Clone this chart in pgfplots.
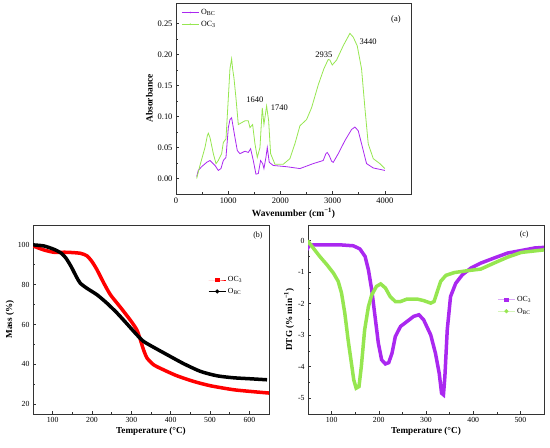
\documentclass[border=0pt]{standalone}
\usepackage{pgfplots}
\pgfplotsset{compat=1.18}
\usepackage{fontspec}
\setmainfont{Liberation Serif}
\definecolor{cpur}{RGB}{170,40,240}
\definecolor{cgrn}{RGB}{150,230,80}
\pgfplotsset{
  every axis/.append style={
    scale only axis,
    axis line style={line width=0.6bp, black!80},
    tick align=inside,
    tick pos=left,
    minor tick num=1,
    major tick length=3bp,
    minor tick length=1.8bp,
    every tick/.style={black!80, line width=0.6bp},
    tick label style={font=\fontsize{7.8}{8}\selectfont},
    label style={font=\fontsize{9.2}{10}\selectfont\bfseries},
    /pgf/number format/assume math mode=true,
    /pgf/number format/set thousands separator={},
    legend style={draw=none, fill=none, font=\fontsize{7.8}{8}\selectfont, row sep=1bp},
  }
}
\begin{document}
\begin{tikzpicture}
\path (0,0) rectangle (550bp,448bp);
% ---------------- (a)
\begin{axis}[
  at={(176bp,254bp)}, anchor=south west,
  width=235bp, height=191bp,
  xmin=0, xmax=4500, ymin=-0.025, ymax=0.283,
  xtick={0,1000,2000,3000,4000},
  ytick={0,0.05,0.1,0.15,0.2,0.25},
  tick label style={font=\fontsize{8.5}{9}\selectfont},
  label style={font=\fontsize{9.5}{10}\selectfont\bfseries},
  yticklabel style={/pgf/number format/fixed,/pgf/number format/precision=2,/pgf/number format/zerofill},
  scaled y ticks=false,
  xlabel={Wavenumber (cm\textsuperscript{−1})},
  ylabel={Absorbance},
  xlabel style={yshift=2bp},
  ylabel style={yshift=-2bp},
  legend style={at={(0.01,0.99)}, anchor=north west, font=\fontsize{8}{9}\selectfont},
  legend cell align=left,
]
\addplot[cpur, line width=0.8bp, forget plot] coordinates {
(396,0.003)(427,0.013)(491,0.019)(587,0.026)(651,0.029)(747,0.021)(810,0.013)(861,0.016)(906,0.029)(957,0.034)
(1002,0.082)(1033,0.095)(1065,0.098)(1097,0.082)(1129,0.066)(1174,0.045)(1225,0.040)(1321,0.044)(1384,0.042)(1429,0.048)
(1480,0.029)(1531,0.007)(1576,0.008)(1620,0.029)(1659,0.024)(1684,0.016)(1722,0.034)(1748,0.050)(1786,0.026)(1863,0.021)
(2118,0.019)(2373,0.016)(2628,0.024)(2819,0.029)(2870,0.040)(2896,0.042)(2934,0.037)(2979,0.028)(3011,0.026)(3107,0.040)
(3234,0.061)(3362,0.079)(3426,0.083)(3490,0.077)(3553,0.056)(3649,0.024)(3777,0.017)(4000,0.013)};
\addlegendimage{cpur, line width=0.5bp, mark=*, mark size=0.5bp}
\addlegendentry{O\textsubscript{BC}}
\addplot[cgrn, line width=0.8bp, forget plot] coordinates {
(396,0.0)(459,0.021)(555,0.050)(600,0.069)(619,0.073)(651,0.066)(715,0.040)(766,0.024)(810,0.029)(874,0.040)
(906,0.058)(957,0.064)(1002,0.130)(1033,0.177)(1065,0.193)(1084,0.177)(1110,0.162)(1148,0.130)(1193,0.087)(1257,0.090)
(1321,0.093)(1384,0.093)(1416,0.082)(1467,0.087)(1512,0.056)(1557,0.034)(1608,0.050)(1652,0.114)(1684,0.087)(1735,0.117)
(1774,0.093)(1812,0.040)(1895,0.023)(2054,0.023)(2181,0.032)(2277,0.056)(2373,0.085)(2500,0.095)(2596,0.114)(2724,0.151)
(2832,0.177)(2915,0.192)(2947,0.191)(2992,0.183)(3075,0.191)(3202,0.214)(3330,0.234)(3394,0.228)(3470,0.214)(3553,0.177)
(3617,0.114)(3681,0.056)(3777,0.032)(3904,0.024)(4000,0.016)};
\addlegendimage{cgrn, line width=0.5bp, mark=*, mark size=0.5bp}
\addlegendentry{OC\textsubscript{3}}
\node[font=\fontsize{8.5}{9}\selectfont] at (axis cs:1510,0.127) {1640};
\node[font=\fontsize{8.5}{9}\selectfont] at (axis cs:1978,0.114) {1740};
\node[font=\fontsize{8.5}{9}\selectfont] at (axis cs:2832,0.200) {2935};
\node[font=\fontsize{8.5}{9}\selectfont] at (axis cs:3680,0.221) {3440};
\node[font=\fontsize{8.5}{9}\selectfont] at (axis cs:4211,0.257) {(a)};
\end{axis}
% ---------------- (b)
\begin{axis}[
  at={(33bp,34bp)}, anchor=south west,
  width=236bp, height=189bp,
  xmin=50, xmax=650, ymin=15, ymax=110,
  xtick={100,200,300,400,500,600},
  ytick={20,40,60,80,100},
  xlabel={Temperature (°C)},
  ylabel={Mass (\%)},
  xlabel style={yshift=2bp},
  ylabel style={yshift=-3bp},
  legend style={at={(0.73,0.75)}, anchor=north west},
  legend cell align=left,
]
\addplot[red, line width=3.5bp, forget plot, smooth, tension=0.4] coordinates {
(50,99.5)(77,97.5)(103,96.3)(136,96.3)(170,95.8)(187,94.5)(200,91.6)(213,87.4)(230,80.8)(247,74.9)
(272,68.7)(297,62.3)(314,57.3)(323,52.3)(331,47.3)(340,43.1)(357,39.7)(382,37.2)(416,34.2)(458,31.4)
(501,29.2)(560,27.2)(611,26.2)(652,25.5)};
\addlegendimage{red, line width=0.5bp, mark=square*, mark size=1.8bp}
\addlegendentry{OC\textsubscript{3}}
\addplot[black, line width=3.5bp, forget plot, smooth, tension=0.4] coordinates {
(50,100)(77,99.5)(103,97.8)(122,95.8)(134,93.3)(147,89.1)(160,84.1)(170,80.8)(187,78.2)(213,74.9)
(238,70.7)(264,65.7)(289,60.3)(314,54.8)(331,51.5)(357,48.5)(391,44.8)(433,40.3)(476,36.4)(518,34.2)
(560,33.2)(603,32.7)(645,32.2)};
\addlegendimage{black, line width=0.5bp, mark=*, mark size=1.8bp}
\addlegendentry{O\textsubscript{BC}}
\node[font=\fontsize{8}{9}\selectfont] at (axis cs:622,104.7) {(b)};
\end{axis}
% ---------------- (c)
\begin{axis}[
  at={(308bp,34bp)}, anchor=south west,
  width=236bp, height=189bp,
  xmin=50, xmax=550, ymin=-5.5, ymax=0.5,
  xtick={100,200,300,400,500},
  ytick={-5,-4,-3,-2,-1,0},
  xlabel={Temperature (°C)},
  ylabel={DTG (\% min\textsuperscript{−1})},
  xlabel style={yshift=2bp},
  ylabel style={yshift=-3bp},
  legend style={at={(0.79,0.645)}, anchor=north west},
  legend cell align=left,
]
\addplot[cpur, line width=3.5bp, forget plot] coordinates {
(47,-0.30)(52,-0.16)(61,-0.13)(83,-0.13)(118,-0.13)(146,-0.16)(160,-0.26)(171,-0.50)(178,-0.92)(185,-1.56)
(192,-2.40)(199,-3.25)(206,-3.78)(214,-3.91)(221,-3.87)(228,-3.57)(235,-3.04)(246,-2.72)(260,-2.56)(274,-2.40)
(285,-2.35)(295,-2.51)(310,-2.99)(320,-3.57)(328,-4.21)(333,-4.84)(337,-4.89)(340,-4.31)(345,-2.83)(352,-1.77)
(363,-1.35)(377,-1.08)(395,-0.87)(416,-0.71)(444,-0.55)(473,-0.39)(502,-0.31)(530,-0.23)(550,-0.21)};
\addlegendimage{cpur!40, line width=0.5bp, mark=square*, mark size=1.8bp, mark options={cpur}}
\addlegendentry{OC\textsubscript{3}}
\addplot[cgrn, line width=3.5bp, forget plot] coordinates {
(49,0)(61,-0.23)(75,-0.50)(90,-0.76)(104,-1.03)(114,-1.29)(121,-1.66)(128,-2.30)(135,-3.15)(142,-3.89)
(147,-4.42)(152,-4.68)(158,-4.63)(163,-3.99)(170,-2.83)(178,-2.09)(185,-1.72)(195,-1.45)(204,-1.37)(214,-1.50)
(224,-1.77)(235,-1.93)(246,-1.93)(260,-1.85)(281,-1.85)(295,-1.90)(310,-1.98)(317,-1.93)(324,-1.61)(331,-1.29)
(342,-1.10)(360,-1.01)(388,-0.95)(416,-0.90)(444,-0.71)(473,-0.52)(502,-0.37)(550,-0.29)};
\addlegendimage{cgrn!40, line width=0.5bp, mark=*, mark size=1.8bp, mark options={cgrn}}
\addlegendentry{O\textsubscript{BC}}
\node[font=\fontsize{8}{9}\selectfont] at (axis cs:508,0.19) {(c)};
\end{axis}
\end{tikzpicture}
\end{document}
